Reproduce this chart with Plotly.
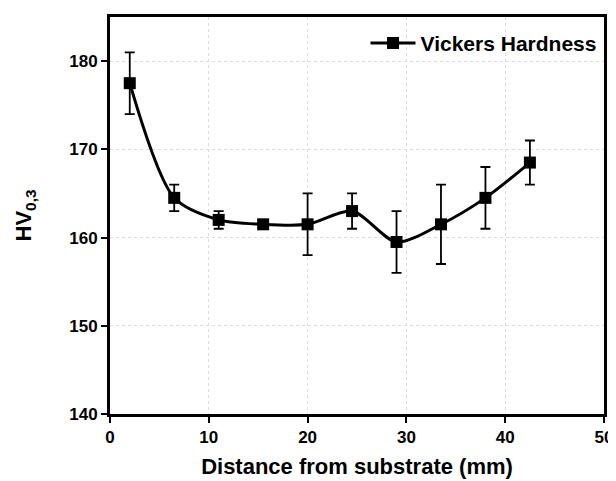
import plotly.graph_objects as go

distance = [2, 6.5, 11, 15.5, 20, 24.5, 29, 33.5, 38, 42.5]
hardness = [177.5, 164.5, 162.0, 161.5, 161.5, 163.0, 159.5, 161.5, 164.5, 168.5]
err = [3.5, 1.5, 1.0, 0.3, 3.5, 2.0, 3.5, 4.5, 3.5, 2.5]

x_ticks = [0, 10, 20, 30, 40, 50]
y_ticks = [140, 150, 160, 170, 180]

font_family = "Liberation Sans, Arial, sans-serif"

fig = go.Figure()
fig.add_trace(go.Scatter(
    x=distance, y=hardness,
    mode="lines+markers",
    name="<b>Vickers Hardness</b>",
    line=dict(color="black", width=3, shape="spline", smoothing=0.8),
    marker=dict(symbol="square", size=12, color="black"),
    error_y=dict(type="data", array=err, visible=True, color="black",
                 thickness=1.8, width=5),
))

axis_common = dict(
    showline=True, linecolor="black", linewidth=3, mirror=True,
    ticks="outside", ticklen=6, tickwidth=2, tickcolor="black",
    showgrid=True, gridcolor="#dcdcdc", griddash="dot", gridwidth=1,
    zeroline=False, automargin=False,
    tickfont=dict(family=font_family, size=17, color="black"),
)

fig.update_layout(
    width=608, height=473,
    margin=dict(l=102, r=12, t=9, b=67),
    paper_bgcolor="white", plot_bgcolor="white",
    showlegend=True,
    legend=dict(x=0.995, y=0.985, xanchor="right", yanchor="top",
                bgcolor="rgba(0,0,0,0)", itemwidth=45,
                font=dict(family=font_family, size=21, color="black")),
    xaxis=dict(range=[0, 50], tickvals=x_ticks,
               ticktext=[f"<b>{v}</b>" for v in x_ticks],
               title=dict(text="<b>Distance from substrate (mm)</b>",
                          font=dict(family=font_family, size=22, color="black"),
                          standoff=13),
               **axis_common),
    yaxis=dict(range=[140, 185], tickvals=y_ticks,
               ticktext=[f"<b>{v}</b>" for v in y_ticks],
               title=dict(text="<b>HV<sub>0,3</sub></b>",
                          font=dict(family=font_family, size=22, color="black"),
                          standoff=32),
               **axis_common),
)

fig.write_html("out.html")
